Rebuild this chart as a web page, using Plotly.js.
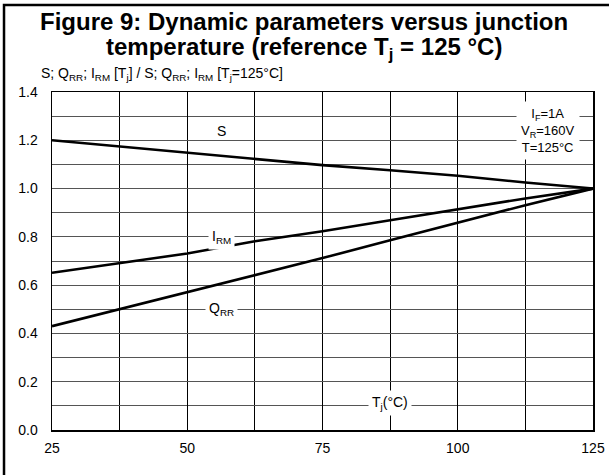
<!DOCTYPE html>
<html>
<head>
<meta charset="utf-8">
<script src="https://cdn.plot.ly/plotly-3.0.1.min.js"></script>
<style>html,body{margin:0;padding:0;background:#fff;}#chart{width:609px;height:475px;}</style>
</head>
<body>
<div id="chart"></div>
<script>
// ---- data ----
const tj = [25, 37.5, 50, 62.5, 75, 87.5, 100, 112.5, 125];
const sValues   = [1.200, 1.175, 1.148, 1.122, 1.097, 1.076, 1.053, 1.025, 1.000];
const irmValues = [0.651, 0.690, 0.731, 0.782, 0.823, 0.869, 0.915, 0.959, 1.000];
const qrrValues = [0.430, 0.500, 0.572, 0.642, 0.712, 0.786, 0.860, 0.931, 1.000];
const xTicks = [25, 50, 75, 100, 125];
const yTicks = [0.0, 0.2, 0.4, 0.6, 0.8, 1.0, 1.2, 1.4];
const titleLines = ["Figure 9: Dynamic parameters versus junction",
                    "temperature (reference T<sub>j</sub> = 125 °C)"];
const yTitle = "S; Q<sub>RR</sub>; I<sub>RM</sub> [T<sub>j</sub>] / S; Q<sub>RR</sub>; I<sub>RM</sub> [T<sub>j</sub>=125°C]";
const xTitle = "T<sub>j</sub>(°C)";
const curveLabels = [
  {text: "S", x: 56.3, y: 1.238},
  {text: "I<sub>RM</sub>", x: 56.3, y: 0.80},
  {text: "Q<sub>RR</sub>", x: 56.3, y: 0.50}
];
const conditions = "I<sub>F</sub>=1A<br>V<sub>R</sub>=160V<br>T=125°C";

const FONT = "Liberation Sans, Arial, sans-serif";
const lineStyle = {color: "#000", width: 2.6};

const traces = [
  {x: tj, y: sValues, name: "S", mode: "lines", line: lineStyle},
  {x: tj, y: irmValues, name: "IRM", mode: "lines", line: lineStyle},
  {x: tj, y: qrrValues, name: "QRR", mode: "lines", line: lineStyle}
];

const annotations = [];
annotations.push({xref: "paper", yref: "paper", x: 0.4667, y: 1.208, text: "<b>" + titleLines[0] + "</b>",
  showarrow: false, xanchor: "center", yanchor: "middle", font: {family: FONT, size: 24, color: "#000"}});
annotations.push({xref: "paper", yref: "paper", x: 0.4667, y: 1.130, text: "<b>" + titleLines[1] + "</b>",
  showarrow: false, xanchor: "center", yanchor: "middle", font: {family: FONT, size: 24, color: "#000"}});
annotations.push({xref: "paper", yref: "paper", x: -0.024, y: 1.053, text: yTitle,
  showarrow: false, xanchor: "left", yanchor: "middle", font: {family: FONT, size: 14, color: "#000"}});
curveLabels.forEach(l => annotations.push({x: l.x, y: l.y, text: l.text, showarrow: false,
  xanchor: "center", yanchor: "middle", bgcolor: l.text === "S" ? "rgba(0,0,0,0)" : "#fff",
  borderpad: 3, font: {family: FONT, size: 14, color: "#000"}}));
annotations.push({x: 116.7, y: 1.24, text: conditions, showarrow: false, xanchor: "center", yanchor: "middle",
  bgcolor: "#fff", borderpad: 4, font: {family: FONT, size: 13, color: "#000"}});
annotations.push({x: 87.5, y: 0.11, text: xTitle, showarrow: false, xanchor: "center", yanchor: "middle",
  bgcolor: "#fff", borderpad: 3, font: {family: FONT, size: 14, color: "#000"}});

const layout = {
  width: 609, height: 475,
  margin: {l: 52, r: 16, t: 92, b: 45},
  paper_bgcolor: "#fff", plot_bgcolor: "#fff",
  showlegend: false,
  font: {family: FONT, size: 14, color: "#000"},
  xaxis: {range: [25, 125], tickvals: xTicks, ticktext: xTicks.map(String),
    showgrid: true, gridcolor: "#000", gridwidth: 1,
    minor: {dtick: 12.5, tick0: 25, showgrid: true, gridcolor: "#000", gridwidth: 1},
    showline: true, linecolor: "#000", linewidth: 1.5, mirror: true, zeroline: false,
    ticks: "", ticklabelstandoff: 5, tickfont: {family: FONT, size: 14, color: "#000"}},
  yaxis: {range: [0, 1.4], tickvals: yTicks, ticktext: yTicks.map(v => v.toFixed(1)),
    showgrid: true, gridcolor: "#555", gridwidth: 1,
    minor: {dtick: 0.1, tick0: 0, showgrid: true, gridcolor: "#555", gridwidth: 1},
    showline: true, linecolor: "#000", linewidth: 1.5, mirror: true, zeroline: false,
    ticks: "", ticklabelstandoff: 10, tickfont: {family: FONT, size: 14, color: "#000"}},
  annotations: annotations,
  shapes: [
    {type: "path", xref: "paper", yref: "paper", path: "M -0.0887,-0.3 L -0.0887,1.2574 L 1.2,1.2574",
     line: {color: "#000", width: 2.5}, layer: "above"}
  ]
};

Plotly.newPlot("chart", traces, layout, {displayModeBar: false, staticPlot: true});
</script>
</body>
</html>
